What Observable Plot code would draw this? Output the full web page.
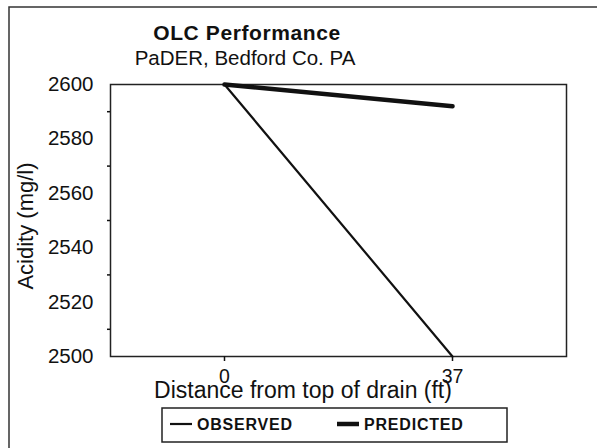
<!DOCTYPE html>
<html><head><meta charset="utf-8">
<script src="https://cdn.jsdelivr.net/npm/d3@7"></script>
<script src="https://cdn.jsdelivr.net/npm/@observablehq/plot@0.6"></script>
<style>
body{margin:0;background:#fff;}
#wrap{position:relative;width:597px;height:448px;overflow:hidden;}
</style></head><body><div id="wrap"></div>
<script>
const distances = ["0", "37"];
const observed = [2600, 2500];
const predicted = [2600, 2592];
const yTicks = [2500, 2520, 2540, 2560, 2580, 2600];
const yMinorTicks = [2510, 2530, 2550, 2570, 2590];
const seriesNames = ["OBSERVED", "PREDICTED"];
const titleText = "OLC Performance";
const subtitleText = "PaDER, Bedford Co. PA";
const xLabel = "Distance from top of drain (ft)";
const yLabel = "Acidity (mg/l)";

const obsData = distances.map((d, i) => ({d, v: observed[i]}));
const predData = distances.map((d, i) => ({d, v: predicted[i]}));
const FONT = "'Liberation Sans', Arial, sans-serif";

const chart = Plot.plot({
  width: 597, height: 448,
  marginLeft: 110, marginRight: 31, marginTop: 84, marginBottom: 92,
  style: {fontFamily: FONT, color: "#111", background: "transparent", overflow: "visible"},
  x: {type: "point", domain: distances, padding: 0.5},
  y: {domain: [2500, 2600]},
  marks: [
    Plot.frame({stroke: "#222", strokeWidth: 1.5}),
    Plot.axisY({ticks: yTicks, tickSize: 0, tickPadding: 17, fontSize: 20.5, label: null, tickFormat: d => String(d)}),
    Plot.axisY({ticks: yMinorTicks, tickSize: 3, text: null, label: null, strokeWidth: 1.5}),
    Plot.axisX({ticks: distances, tickSize: 5, tickPadding: 8, fontSize: 19.5, label: null, strokeWidth: 1.5}),
    Plot.line(obsData, {x: "d", y: "v", stroke: "#111", strokeWidth: 2.2}),
    Plot.line(predData, {x: "d", y: "v", stroke: "#111", strokeWidth: 4.5})
  ]
});
document.getElementById("wrap").appendChild(chart);

const svg = d3.select(chart);
// outer chart border (left & top)
svg.append("path").attr("d", "M9,448V7H597").attr("fill", "none").attr("stroke", "#333").attr("stroke-width", 1.5);

svg.append("text").attr("x", 247).attr("y", 40).attr("text-anchor", "middle")
  .attr("font-family", FONT).attr("font-size", 21).attr("font-weight", "bold")
  .attr("letter-spacing", 0.6).attr("fill", "#111").text(titleText);
svg.append("text").attr("x", 245).attr("y", 65).attr("text-anchor", "middle")
  .attr("font-family", FONT).attr("font-size", 20.5).attr("fill", "#111").text(subtitleText);
svg.append("text").attr("x", 303).attr("y", 398).attr("text-anchor", "middle")
  .attr("font-family", FONT).attr("font-size", 23).attr("fill", "#111").text(xLabel);
svg.append("text").attr("transform", "translate(33,226) rotate(-90)").attr("text-anchor", "middle")
  .attr("font-family", FONT).attr("font-size", 22).attr("fill", "#111").text(yLabel);

// legend
const lg = svg.append("g");
lg.append("rect").attr("x", 162).attr("y", 408).attr("width", 345).attr("height", 34)
  .attr("fill", "none").attr("stroke", "#222").attr("stroke-width", 1.5);
const entries = [{x: 170, w: 2.2}, {x: 337, w: 4.5}];
seriesNames.forEach((name, i) => {
  const e = entries[i];
  lg.append("line").attr("x1", e.x).attr("x2", e.x + 22).attr("y1", 424).attr("y2", 424)
    .attr("stroke", "#111").attr("stroke-width", e.w);
  lg.append("text").attr("x", e.x + 27).attr("y", 430).attr("text-anchor", "start")
    .attr("font-family", FONT).attr("font-size", 16).attr("font-weight", "bold")
    .attr("letter-spacing", 0.8).attr("fill", "#111").text(name);
});
</script></body></html>
